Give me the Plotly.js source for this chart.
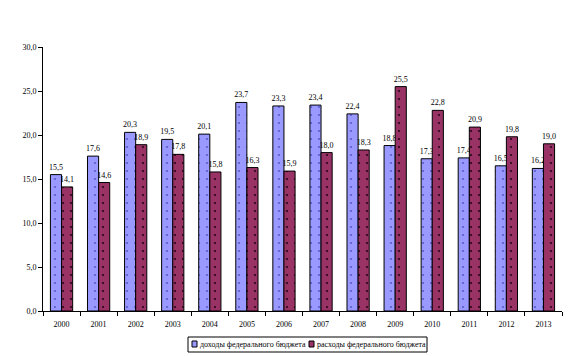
<!DOCTYPE html>
<html>
<head>
<meta charset="utf-8">
<script src="https://cdn.plot.ly/plotly-3.0.1.min.js"></script>
<style>html,body{margin:0;padding:0;background:#fff;}#chart{width:572px;height:356px;}</style>
</head>
<body>
<div id="chart"></div>
<script>
const years = ["2000","2001","2002","2003","2004","2005","2006","2007","2008","2009","2010","2011","2012","2013"];
const revenues = [15.5, 17.6, 20.3, 19.5, 20.1, 23.7, 23.3, 23.4, 22.4, 18.8, 17.3, 17.4, 16.5, 16.2];
const expenses = [14.1, 14.6, 18.9, 17.8, 15.8, 16.3, 15.9, 18.0, 18.3, 25.5, 22.8, 20.9, 19.8, 19.0];
const seriesNames = ["доходы федерального бюджета", "расходы федерального бюджета"];
const yTicks = [0, 5, 10, 15, 20, 25, 30];
const colors = ["#9999FF", "#993366"];
const dotColors = ["#5a5ad0", "#2a0515"];

const font = "Liberation Serif, Times New Roman, serif";
function barTrace(y, i) {
  return {
    type: "bar", x: years, y: y, name: seriesNames[i], showlegend: false,
    marker: {color: colors[i], line: {color: "#000", width: 1},
             pattern: {shape: ".", fgcolor: dotColors[i], bgcolor: colors[i], size: 8, solidity: 0.06}},
    text: y.map(v => v.toFixed(1).replace(".", ",")),
    textposition: "outside", cliponaxis: false, constraintext: "none",
    textfont: {family: font, size: 8, color: "#000"}
  };
}
const data = [barTrace(revenues, 0), barTrace(expenses, 1)];

// custom legend (pixel -> paper conversion for plot area 43..562 x 47..311)
const px = x => (x - 43) / 519, py = y => (311 - y) / 264;
const shapes = [
  {type: "rect", xref: "paper", yref: "paper", x0: px(188), x1: px(427), y0: py(337), y1: py(352),
   line: {color: "#000", width: 1}, fillcolor: "#fff"},
  {type: "rect", xref: "paper", yref: "paper", x0: px(192), x1: px(197), y0: py(341), y1: py(347),
   line: {color: "#000", width: 1}, fillcolor: colors[0]},
  {type: "rect", xref: "paper", yref: "paper", x0: px(309), x1: px(314), y0: py(341), y1: py(347),
   line: {color: "#000", width: 1}, fillcolor: colors[1]}
];
const annotations = [
  {xref: "paper", yref: "paper", x: px(198), y: py(344.5), xanchor: "left", yanchor: "middle",
   text: seriesNames[0], showarrow: false, font: {family: font, size: 8, color: "#000"}},
  {xref: "paper", yref: "paper", x: px(315), y: py(344.5), xanchor: "left", yanchor: "middle",
   text: seriesNames[1], showarrow: false, font: {family: font, size: 8, color: "#000"}}
];

const layout = {
  width: 572, height: 356,
  margin: {l: 43, r: 10, t: 47, b: 45},
  paper_bgcolor: "#fff", plot_bgcolor: "#fff",
  separators: ", ",
  barmode: "group", bargap: 0.4, bargroupgap: 0,
  showlegend: false,
  font: {family: font, size: 8, color: "#000"},
  xaxis: {type: "category", showline: true, linecolor: "#000", linewidth: 1,
          ticks: "outside", tickson: "boundaries", ticklen: 4, tickcolor: "#000",
          ticklabelstandoff: 5,
          showgrid: false, zeroline: false, tickfont: {family: font, size: 8, color: "#000"}},
  yaxis: {range: [0, 30], tickvals: yTicks, tickformat: ".1f", showline: true,
          linecolor: "#000", linewidth: 1, ticks: "outside", ticklen: 4, tickcolor: "#000",
          showgrid: false, zeroline: false, tickfont: {family: font, size: 8, color: "#000"}},
  shapes: shapes,
  annotations: annotations
};
Plotly.newPlot("chart", data, layout, {displayModeBar: false, staticPlot: true});
</script>
</body>
</html>
